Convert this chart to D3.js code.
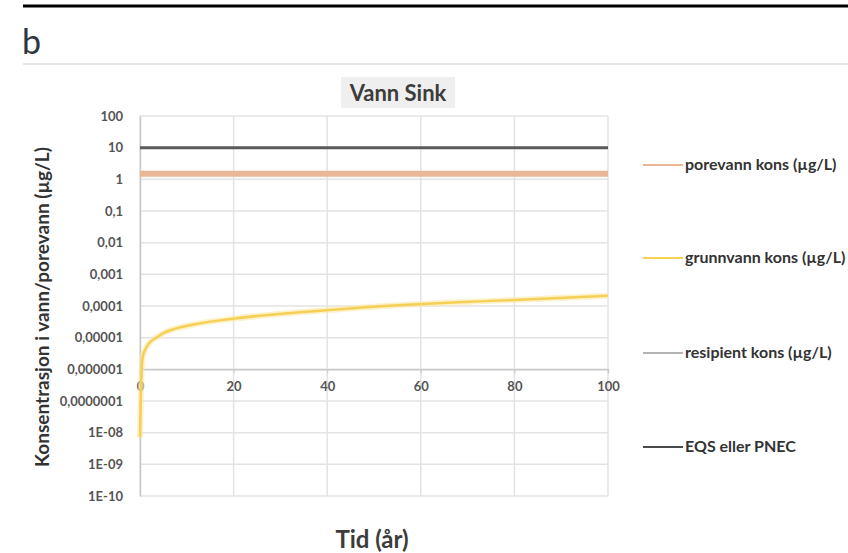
<!DOCTYPE html>
<html>
<head>
<meta charset="utf-8">
<script src="https://cdn.jsdelivr.net/npm/d3@7"></script>
<style>
  body { margin: 0; background: #fff; }
  svg { display: block; font-family: Lato, "Open Sans", sans-serif; }
</style>
</head>
<body>
<svg id="chart"></svg>
<script>
// data
var years = [0, 0.2, 0.6, 1.2, 2, 3.5, 5, 8, 12, 19, 26, 39, 55, 68, 80, 100]
var grunnvann = [7e-9, 2e-7, 2.5e-6, 4.5e-6, 6.8e-6, 1e-5, 1.4e-5, 2e-5, 2.7e-5, 3.8e-5, 5e-5, 7.2e-5, 1.05e-4, 1.32e-4, 1.55e-4, 2.1e-4]
var porevannYears = [0, 100]
var porevann = [1.5, 1.5]
var eqsYears = [0, 100]
var eqs = [10, 10]
var yTicks = [100, 10, 1, 0.1, 0.01, 0.001, 0.0001, 0.00001, 0.000001, 0.0000001, 1e-8, 1e-9, 1e-10]
var yTickLabels = ["100", "10", "1", "0,1", "0,01", "0,001", "0,0001", "0,00001", "0,000001", "0,0000001", "1E-08", "1E-09", "1E-10"]
var xTicks = [0, 20, 40, 60, 80, 100]
var legendNames = ["porevann kons (µg/L)", "grunnvann kons (µg/L)", "resipient kons (µg/L)", "EQS eller PNEC"]
var legendColors = ["#e9b796", "#f6cf57", "#b4b4b4", "#4a4a4a"]

var width = 848,
    height = 553

var svg = d3.select("#chart")
    .attr("width", width)
    .attr("height", height)

// header of the figure panel
svg.append("line")
    .attr("x1", 23).attr("x2", width)
    .attr("y1", 6).attr("y2", 6)
    .attr("stroke", "#000")
    .attr("stroke-width", 3)

svg.append("text")
    .attr("x", 22)
    .attr("y", 54)
    .attr("font-size", "34px")
    .attr("fill", "#2e3640")
    .text("b")

svg.append("line")
    .attr("x1", 23).attr("x2", width)
    .attr("y1", 64).attr("y2", 64)
    .attr("stroke", "#e6e6e6")
    .attr("stroke-width", 2)

var x = d3.scaleLinear()
    .domain([0, 100])
    .range([140, 608])

var y = d3.scaleLog()
    .domain([1e-10, 100])
    .range([496, 116])

// gridlines
svg.append("g")
    .selectAll("line")
    .data(yTicks)
    .enter()
    .append("line")
    .attr("x1", x(0)).attr("x2", x(100))
    .attr("y1", d => y(d)).attr("y2", d => y(d))
    .attr("stroke", "#e3e3e3")
    .attr("stroke-width", 1.5)

svg.append("g")
    .selectAll("line")
    .data(xTicks)
    .enter()
    .append("line")
    .attr("x1", d => x(d)).attr("x2", d => x(d))
    .attr("y1", y(100)).attr("y2", y(1e-10))
    .attr("stroke", "#e3e3e3")
    .attr("stroke-width", 1.5)

// y axis (no tick marks, just labels)
var yAxis = d3.axisLeft(y)
    .tickValues(yTicks)
    .tickFormat((d, i) => yTickLabels[i])
    .tickSize(0)
    .tickPadding(17)

var gy = svg.append("g")
    .attr("transform", "translate(" + x(0) + ",0)")
    .call(yAxis)
gy.select(".domain").attr("stroke", "#c8c8c8").attr("stroke-width", 1.5)
gy.selectAll("text")
    .attr("font-size", "13px")
    .attr("font-weight", "bold")
    .attr("font-family", "Lato, sans-serif")
    .attr("fill", "#555")

// x axis crosses at 1E-06
var xAxis = d3.axisBottom(x)
    .tickValues(xTicks)
    .tickSize(4)
    .tickPadding(8)

var gx = svg.append("g")
    .attr("transform", "translate(0," + y(1e-6) + ")")
    .call(xAxis)
gx.select(".domain").attr("stroke", "#c8c8c8").attr("stroke-width", 1.5)
gx.selectAll(".tick line").attr("stroke", "#c8c8c8")
gx.selectAll("text")
    .attr("font-size", "13px")
    .attr("font-weight", "bold")
    .attr("font-family", "Lato, sans-serif")
    .attr("fill", "#555")

// series
var line = d3.line()
    .x(d => x(d[0]))
    .y(d => y(d[1]))

svg.append("path")
    .datum(d3.zip(porevannYears, porevann))
    .attr("d", line)
    .attr("fill", "none")
    .attr("stroke", legendColors[0])
    .attr("stroke-width", 6)

svg.append("path")
    .datum(d3.zip(eqsYears, eqs))
    .attr("d", line)
    .attr("fill", "none")
    .attr("stroke", "#5a5a5a")
    .attr("stroke-width", 3)

var curve = d3.line()
    .curve(d3.curveMonotoneX)
    .x(d => x(d[0]))
    .y(d => y(d[1]))

svg.append("path")
    .datum(d3.zip(years, grunnvann))
    .attr("d", curve)
    .attr("fill", "none")
    .attr("stroke", "#fbe9a6")
    .attr("stroke-width", 6)
    .attr("opacity", 0.6)

svg.append("path")
    .datum(d3.zip(years, grunnvann))
    .attr("d", curve)
    .attr("fill", "none")
    .attr("stroke", legendColors[1])
    .attr("stroke-width", 2.5)

// title with its grey box
svg.append("rect")
    .attr("x", 341).attr("y", 77)
    .attr("width", 114).attr("height", 31)
    .attr("fill", "#efefef")

svg.append("text")
    .attr("x", 398)
    .attr("y", 101)
    .attr("text-anchor", "middle")
    .attr("font-size", "22px")
    .attr("font-weight", "bold")
    .attr("fill", "#3c3c3c")
    .text("Vann Sink")

// axis titles
svg.append("text")
    .attr("transform", "translate(49,307) rotate(-90)")
    .attr("text-anchor", "middle")
    .attr("font-size", "19px")
    .attr("font-weight", "bold")
    .attr("fill", "#333")
    .text("Konsentrasjon i vann/porevann (µg/L)")

svg.append("text")
    .attr("x", 372)
    .attr("y", 548)
    .attr("text-anchor", "middle")
    .attr("font-size", "24px")
    .attr("font-weight", "bold")
    .attr("fill", "#3c3c3c")
    .text("Tid (år)")

// legend
var legendY = [165, 258, 353, 447]

var legend = svg.selectAll(".legend")
    .data(legendNames)
    .enter()
    .append("g")
    .attr("transform", (d, i) => "translate(643," + legendY[i] + ")")

legend.append("line")
    .attr("x1", 0).attr("x2", 40)
    .attr("stroke", (d, i) => legendColors[i])
    .attr("stroke-width", 2)

legend.append("text")
    .attr("x", 42)
    .attr("y", 5)
    .attr("font-size", "16px")
    .attr("font-weight", "bold")
    .attr("fill", "#333")
    .text(d => d)
</script>
</body>
</html>
